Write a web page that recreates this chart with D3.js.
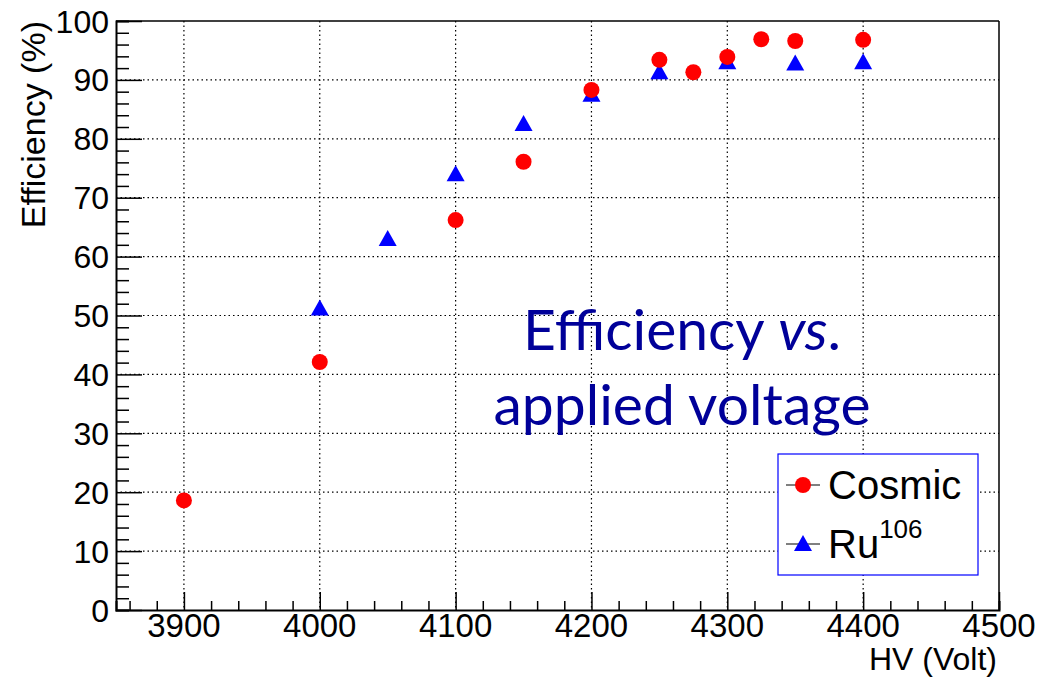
<!DOCTYPE html>
<html>
<head>
<meta charset="utf-8">
<script src="https://cdn.jsdelivr.net/npm/d3@7"></script>
<style>
  body { margin: 0; background: #fff; }
  svg { display: block; }
</style>
</head>
<body>
<div id="chart"></div>
<script>
// Cosmic-ray efficiency scan
const cosmicHV  = [3900, 4000, 4100, 4150, 4200, 4250, 4275, 4300, 4325, 4350, 4400];
const cosmicEff = [18.6, 42.1, 66.2, 76.1, 88.3, 93.4, 91.3, 93.9, 96.9, 96.6, 96.8];

// Ru106 source efficiency scan
const ruHV  = [4000, 4050, 4100, 4150, 4200, 4250, 4300, 4350, 4400];
const ruEff = [51.2, 63.0, 74.0, 82.5, 87.5, 91.3, 93.0, 92.8, 93.0];

const xTicks = [3900, 4000, 4100, 4200, 4300, 4400, 4500];
const yTicks = [0, 10, 20, 30, 40, 50, 60, 70, 80, 90, 100];

const W = 1050, H = 677;
const frame = { left: 116, right: 999, top: 21, bottom: 610 };

const svg = d3.select('#chart').append('svg')
    .attr('width', W).attr('height', H);

const x = d3.scaleLinear().domain([3850, 4500]).range([frame.left, frame.right]);
const y = d3.scaleLinear().domain([0, 100]).range([frame.bottom, frame.top]);

const font = 'Liberation Sans, Arial, Helvetica, sans-serif';

// dotted grid at the major ticks
const grid = svg.append('g');
grid.selectAll('.gx')
    .data(xTicks.filter(v => v < 4500))
    .join('line')
    .attr('x1', d => x(d)).attr('x2', d => x(d))
    .attr('y1', frame.top).attr('y2', frame.bottom)
    .attr('stroke', '#000').attr('stroke-width', 1.2)
    .attr('stroke-dasharray', '1.5,3');
grid.selectAll('.gy')
    .data(yTicks.filter(v => v > 0 && v < 100))
    .join('line')
    .attr('x1', frame.left).attr('x2', frame.right)
    .attr('y1', d => y(d)).attr('y2', d => y(d))
    .attr('stroke', '#000').attr('stroke-width', 1.2)
    .attr('stroke-dasharray', '1.5,3');

// frame top / right
svg.append('line')
    .attr('x1', frame.left).attr('x2', frame.right)
    .attr('y1', frame.top).attr('y2', frame.top)
    .attr('stroke', '#000').attr('stroke-width', 1.5);
svg.append('line')
    .attr('x1', frame.right).attr('x2', frame.right)
    .attr('y1', frame.top).attr('y2', frame.bottom)
    .attr('stroke', '#000').attr('stroke-width', 1.5);

// x axis with ROOT-style inward ticks
const xAxis = d3.axisTop(x)
    .tickValues(d3.range(3860, 4501, 20))
    .tickSize(9)
    .tickFormat('');
const gx = svg.append('g')
    .attr('transform', `translate(0,${frame.bottom})`)
    .call(xAxis);
gx.selectAll('.tick line')
    .attr('y2', d => (d % 100 === 0 ? -18 : -9))
    .attr('stroke-width', 1.5);
gx.select('.domain').attr('stroke-width', 2);

svg.append('g').selectAll('text')
    .data(xTicks)
    .join('text')
    .attr('x', d => x(d))
    .attr('y', 637)
    .attr('text-anchor', 'middle')
    .attr('font-family', font)
    .attr('font-size', 33)
    .text(d => d);

const yAxis = d3.axisRight(y)
    .tickValues(d3.range(0, 101, 2))
    .tickSize(13)
    .tickFormat('');
const gy = svg.append('g')
    .attr('transform', `translate(${frame.left},0)`)
    .call(yAxis);
gy.selectAll('.tick line')
    .attr('x2', d => (d % 10 === 0 ? 26 : 13))
    .attr('stroke-width', 1.5);
gy.select('.domain').attr('stroke-width', 2);

svg.append('g').selectAll('text')
    .data(yTicks)
    .join('text')
    .attr('x', 109)
    .attr('y', d => y(d))
    .attr('dy', '0.36em')
    .attr('text-anchor', 'end')
    .attr('font-family', font)
    .attr('font-size', 32)
    .text(d => d);

// axis titles
svg.append('text')
    .attr('x', 997).attr('y', 670)
    .attr('text-anchor', 'end')
    .attr('font-family', font)
    .attr('font-size', 32)
    .text('HV (Volt)');

svg.append('text')
    .attr('transform', 'translate(45,21) rotate(-90)')
    .attr('text-anchor', 'end')
    .attr('font-family', font)
    .attr('font-size', 34)
    .text('Efficiency (%)');

// markers
const tri = (cx, cy) => `M${cx},${cy - 9}L${cx + 9},${cy + 7}L${cx - 9},${cy + 7}Z`;

svg.append('g').selectAll('path')
    .data(ruHV.map((v, i) => [v, ruEff[i]]))
    .join('path')
    .attr('d', d => tri(x(d[0]), y(d[1])))
    .attr('fill', '#0000ff');

svg.append('g').selectAll('circle')
    .data(cosmicHV.map((v, i) => [v, cosmicEff[i]]))
    .join('circle')
    .attr('cx', d => x(d[0]))
    .attr('cy', d => y(d[1]))
    .attr('r', 8)
    .attr('fill', '#ff0000');

// overlaid annotation
const note = svg.append('text')
    .attr('text-anchor', 'middle')
    .attr('font-family', 'Lato, "Open Sans", sans-serif')
    .attr('font-size', 57)
    .attr('fill', '#000099');
note.append('tspan').attr('x', 682).attr('y', 350).text('Efficiency ');
note.append('tspan').attr('font-style', 'italic').text('vs');
note.append('tspan').text('.');
note.append('tspan').attr('x', 682).attr('y', 425).text('applied voltage');

// legend
const leg = svg.append('g').attr('transform', 'translate(778,454)');
leg.append('rect')
    .attr('width', 200).attr('height', 121)
    .attr('fill', '#fff')
    .attr('stroke', '#0000ff').attr('stroke-width', 1.2);

const entries = [
  { label: 'Cosmic', sup: null, color: '#ff0000', shape: 'circle', cy: 31 },
  { label: 'Ru', sup: '106', color: '#0000ff', shape: 'tri', cy: 90 }
];
entries.forEach(e => {
  leg.append('line')
      .attr('x1', 8).attr('x2', 42)
      .attr('y1', e.cy).attr('y2', e.cy)
      .attr('stroke', '#000').attr('stroke-width', 1);
  if (e.shape === 'circle') {
    leg.append('circle').attr('cx', 25).attr('cy', e.cy).attr('r', 8).attr('fill', e.color);
  } else {
    leg.append('path').attr('d', tri(25, e.cy)).attr('fill', e.color);
  }
  const t = leg.append('text')
      .attr('x', 50).attr('y', e.cy + 14)
      .attr('font-family', font)
      .attr('font-size', 40)
      .text(e.label);
  if (e.sup) {
    t.append('tspan').attr('dy', -20).attr('font-size', 26).text(e.sup);
  }
});
</script>
</body>
</html>
